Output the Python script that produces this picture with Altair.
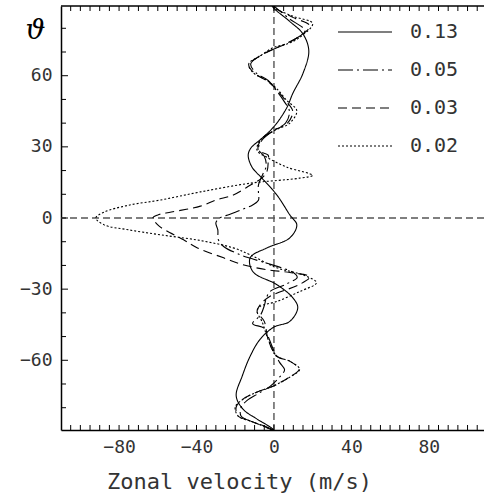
import altair as alt
import pandas as pd

series_labels = ["0.13", "0.05", "0.03", "0.02"]

lat_013 = [89.4, 88.0, 83.0, 77.6, 70.5, 61.0, 52.5, 46.6, 39.0, 33.6, 29.4, 26.4, 21.4, 16.8, 9.7, 1.3,
           -2.9, -8.4, -12.6, -16.8, -22.7, -28.1, -33.6, -37.8, -43.6, -46.0, -51.2, -58.3, -66.7, -75.0,
           -80.6, -84.8, -88.1, -89.4]
u_013 = [-1.0, 0.5, 8.0, 15.0, 18.0, 15.0, 9.7, 6.7, 0.5, -6.2, -12.0, -13.3, -11.3, -6.2, 1.5, 8.2,
         11.8, 8.2, -3.6, -12.3, -10.8, 1.5, 9.7, 12.3, 8.2, 0.0, -7.2, -12.3, -16.4, -19.5,
         -16.0, -8.7, -2.0, 0.0]

lat_005 = [89.4, 88.0, 84.0, 79.0, 76.0, 72.0, 68.4, 65.0, 61.0, 58.0, 54.0, 49.5, 45.0, 40.0, 37.0, 33.0,
           29.0, 26.0, 22.0, 18.0, 14.0, 10.5, 7.5, 5.5, 3.4, 1.5, 0.0, -2.0, -5.0, -9.2, -12.0, -15.5,
           -17.0, -19.0, -21.0, -23.0, -25.0, -28.0, -31.0, -34.0, -37.0, -41.0, -44.5, -46.5, -50.0,
           -58.0, -61.0, -64.0, -67.0, -71.0, -74.0, -77.0, -80.0, -83.5, -86.0, -88.0, -89.4]
u_005 = [0.0, 2.0, 8.0, 16.0, 12.0, 2.0, -7.0, -12.0, -9.0, -3.0, 1.0, 5.0, 8.0, 6.0, 0.0, -6.0,
         -8.0, -5.0, -4.0, -6.0, -8.0, -8.0, -8.0, -11.0, -17.0, -23.0, -28.0, -30.0, -29.0, -28.7, -26.0, -17.4,
         -12.0, -4.0, 4.0, 10.0, 12.0, 6.0, -2.0, -4.0, -5.0, -7.0, -11.0, -5.0, -3.0,
         1.0, 3.0, 5.5, 3.0, -2.0, -8.0, -14.0, -17.0, -17.0, -11.0, -4.0, 0.0]

lat_003 = [89.4, 88.0, 84.5, 81.0, 76.0, 73.0, 71.0, 68.0, 64.5, 61.0, 57.5, 54.0, 49.5, 45.0, 40.0, 37.0,
           32.7, 28.5, 26.5, 23.5, 20.0, 17.0, 13.8, 9.7, 7.6, 5.0, 2.5, 1.3, 0.0, -2.9, -4.2, -9.2,
           -12.6, -16.8, -19.7, -21.8, -23.0, -24.8, -28.0, -33.0, -36.5, -39.4, -43.6, -51.2, -58.3,
           -60.4, -63.8, -67.1, -70.9, -73.4, -76.4, -79.7, -83.5, -85.6, -87.7, -89.4]
u_003 = [-1.0, 1.5, 10.0, 18.5, 12.0, 5.0, -1.0, -8.0, -13.0, -10.0, -3.0, 1.5, 6.0, 9.7, 7.0, 0.0,
         -7.0, -8.0, -3.0, -3.0, -3.5, -6.0, -12.3, -21.0, -30.0, -38.0, -53.0, -60.0, -62.6, -60.0, -58.0, -46.7,
         -39.5, -26.0, -16.0, -3.6, 8.2, 18.5, 13.3, -2.0, -7.0, -8.7, -5.0, -3.0, 1.5,
         8.2, 13.0, 8.0, -0.5, -8.7, -16.0, -19.5, -18.5, -12.3, -5.6, -1.0]

lat_002 = [89.4, 88.0, 85.0, 82.0, 76.0, 73.4, 71.8, 68.4, 65.0, 61.3, 58.0, 54.5, 49.5, 45.3, 40.0, 37.0,
           32.7, 28.5, 25.6, 21.4, 18.0, 16.8, 14.7, 11.0, 7.6, 5.4, 2.5, 0.0, -2.9, -5.0, -7.1, -9.5,
           -12.6, -15.5, -21.0, -24.0, -27.3, -31.0, -35.2, -37.3, -39.4, -43.6, -51.2, -58.3, -60.4,
           -63.8, -67.1, -70.9, -73.4, -76.4, -79.7, -83.5, -85.6, -87.7, -89.4]
u_002 = [-1.0, 1.5, 10.0, 20.0, 13.0, 6.7, -0.5, -7.0, -13.0, -10.8, -3.6, 1.5, 6.7, 11.8, 8.2, 0.5,
         -7.2, -8.7, -3.6, 6.7, 20.0, 13.3, -12.0, -38.0, -58.5, -75.0, -87.7, -92.0, -87.7, -75.0, -58.5, -38.0,
         -21.0, -12.3, 1.5, 15.0, 22.0, 13.3, 1.5, -7.2, -8.7, -6.2, -3.0, 1.5, 8.2,
         13.3, 8.2, -0.5, -8.7, -15.9, -20.0, -18.5, -12.3, -5.6, -1.0]

x_label_values = [-80, -40, 0, 40, 80]
y_label_values = [-60, -30, 0, 30, 60]
x_tick_values = list(range(-105, 106, 5))
y_minor_ticks = [-80, -70, -50, -40, -20, -10, 10, 20, 40, 50, 70, 80]
y_major_ticks = [-60, -30, 0, 30, 60]

rows = []
for lab, lats, us in zip(series_labels, [lat_013, lat_005, lat_003, lat_002],
                         [u_013, u_005, u_003, u_002]):
    for la, uu in zip(lats, us):
        rows.append({"series": lab, "lat": la, "u": uu})
df = pd.DataFrame(rows)

W, H = 423, 424
x_scale = alt.Scale(domain=[-110, 108.5], nice=False, zero=False)
y_scale = alt.Scale(domain=[-89.4, 89.4], nice=False, zero=False)
dashes = [[1, 0], [15, 4, 2, 4], [9, 5], [2, 2]]

MONO = "DejaVu Sans Mono"
TXT = "#333333"

x_axis = alt.Axis(values=x_label_values, ticks=False, grid=False, domain=True,
                  domainColor="black", domainWidth=1.5, labelFont=MONO, labelFontSize=18,
                  labelColor=TXT, labelPadding=8, title="Zonal velocity (m/s)",
                  titleFont=MONO, titleFontSize=22, titleFontWeight="normal", titleColor=TXT,
                  titleX=178, titleY=58, titleAlign="center", titleBaseline="alphabetic")
y_axis = alt.Axis(values=y_label_values, ticks=False, grid=False, domain=True,
                  domainColor="black", domainWidth=1.5, labelFont=MONO, labelFontSize=18,
                  labelColor=TXT, labelPadding=9, title="ϑ", titleAngle=0,
                  titleFont="DejaVu Serif", titleFontStyle="italic", titleFontSize=28,
                  titleFontWeight="normal", titleColor="black", titleX=-26, titleY=24,
                  titleAlign="center", titleBaseline="middle")

lines = alt.Chart(df).mark_line(interpolate="catmull-rom", strokeWidth=1.1, color="black",
                                clip=True).encode(
    x=alt.X("u:Q", scale=x_scale, axis=x_axis),
    y=alt.Y("lat:Q", scale=y_scale, axis=y_axis),
    detail="series:N",
    strokeDash=alt.StrokeDash("series:N", scale=alt.Scale(domain=series_labels, range=dashes),
                              legend=None),
    order=alt.Order("lat:Q"),
)

one = pd.DataFrame({"a": [0]})
zero_h = alt.Chart(one).mark_rule(strokeDash=[7, 4], color="#555555", strokeWidth=1.4).encode(
    y=alt.YDatum(0, scale=y_scale, axis=y_axis))
zero_v = alt.Chart(one).mark_rule(strokeDash=[7, 4], color="#555555", strokeWidth=1.4).encode(
    x=alt.XDatum(0, scale=x_scale, axis=x_axis))

top_border = alt.Chart(one).mark_rule(color="black", strokeWidth=1.5).encode(
    x=alt.value(0), x2=alt.value(W), y=alt.value(0))

xt = pd.DataFrame({"t": x_tick_values})
ticks_bottom = alt.Chart(xt).mark_rule(color="black", strokeWidth=1).encode(
    x=alt.X("t:Q", scale=x_scale, axis=x_axis), y=alt.value(H - 5), y2=alt.value(H))
ticks_top = alt.Chart(xt).mark_rule(color="black", strokeWidth=1).encode(
    x=alt.X("t:Q", scale=x_scale, axis=x_axis), y=alt.value(0), y2=alt.value(5))
ticks_left_minor = alt.Chart(pd.DataFrame({"t": y_minor_ticks})).mark_rule(
    color="black", strokeWidth=1).encode(
    y=alt.Y("t:Q", scale=y_scale, axis=y_axis), x=alt.value(0), x2=alt.value(5))
ticks_left_major = alt.Chart(pd.DataFrame({"t": y_major_ticks})).mark_rule(
    color="black", strokeWidth=1).encode(
    y=alt.Y("t:Q", scale=y_scale, axis=y_axis), x=alt.value(0), x2=alt.value(7))

legend_layers = []
for i, (lab, d) in enumerate(zip(series_labels, dashes)):
    ld = pd.DataFrame({"label": [lab]})
    yy = 26 + 38 * i
    legend_layers.append(alt.Chart(ld).mark_rule(color="black", strokeWidth=1.1, strokeDash=d).encode(
        x=alt.value(277), x2=alt.value(331), y=alt.value(yy)))
    legend_layers.append(alt.Chart(ld).mark_text(align="left", baseline="middle", font=MONO,
                                                 fontSize=20, color=TXT).encode(
        x=alt.value(349), y=alt.value(yy), text="label:N"))

chart = alt.layer(zero_h, zero_v, lines, top_border, ticks_bottom, ticks_top, ticks_left_minor,
                  ticks_left_major, *legend_layers).properties(
    width=W, height=H,
    autosize=alt.AutoSizeParams(type="none"),
    padding={"left": 61, "top": 6, "right": 0, "bottom": 69},
    background="white",
).configure_view(stroke=None)

chart.save("out.html", embed_options={"renderer": "svg", "actions": False})
